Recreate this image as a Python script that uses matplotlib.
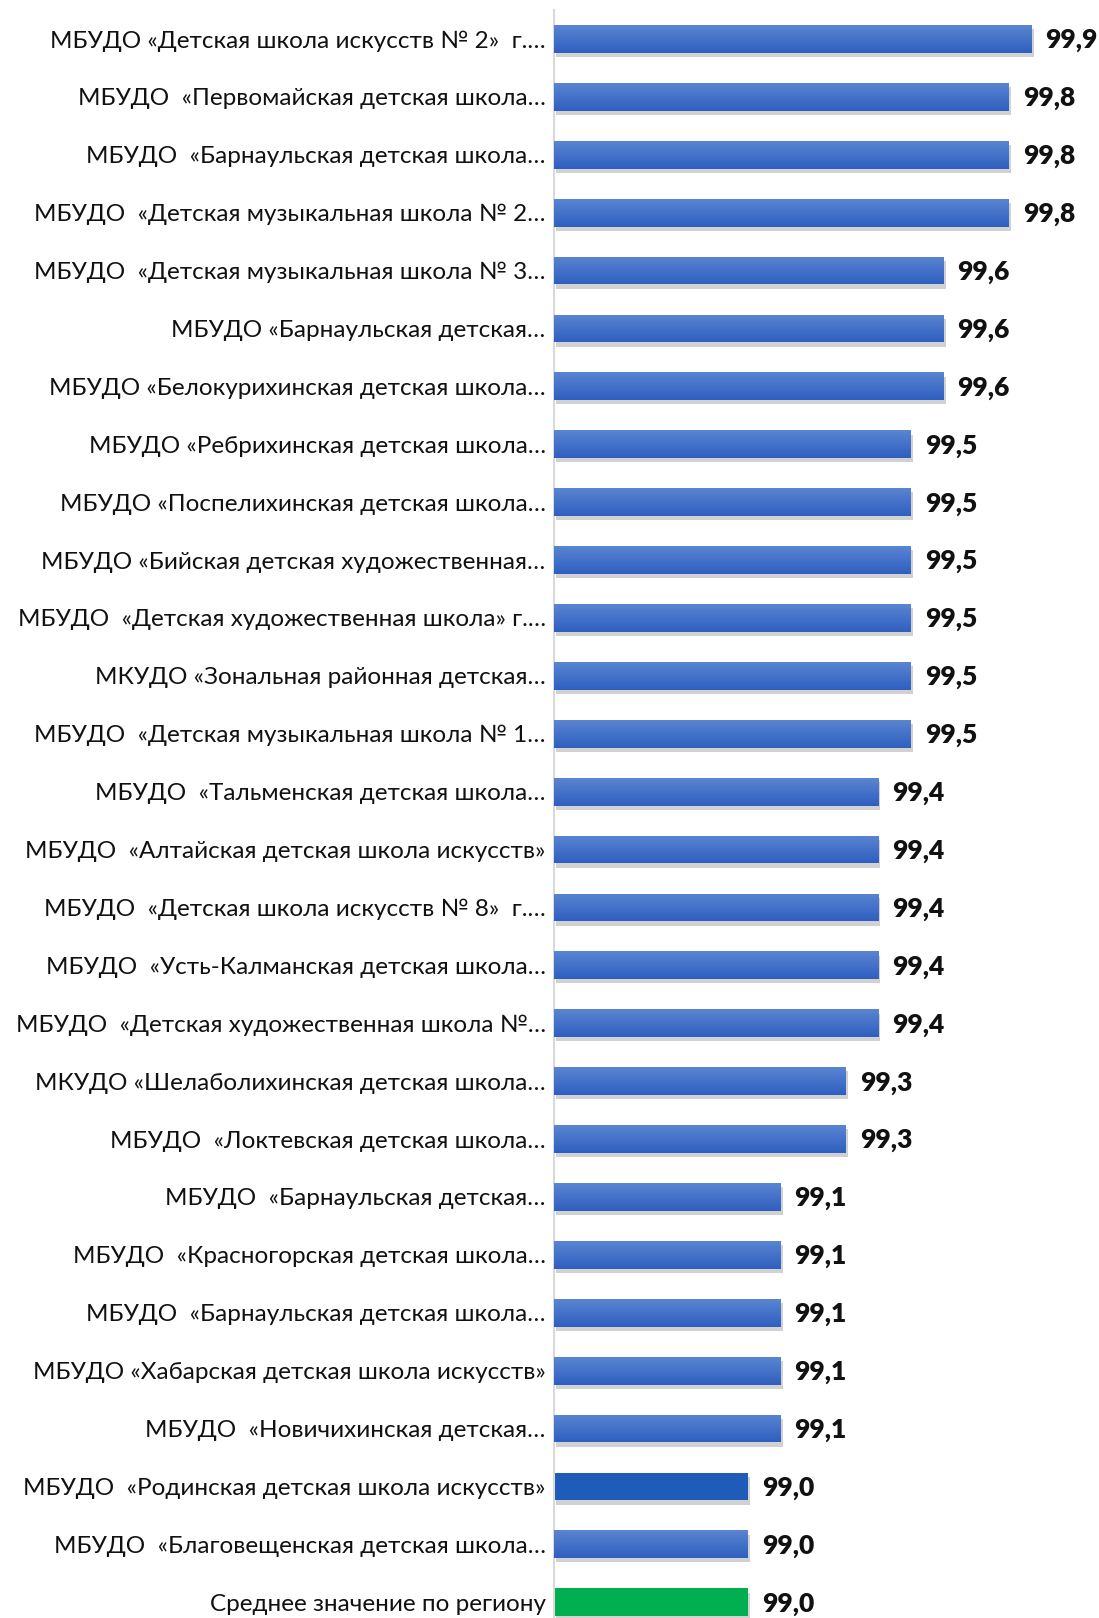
import matplotlib
import numpy as np

matplotlib.use("Agg")
import matplotlib.pyplot as plt  # noqa: E402
from matplotlib import patheffects as pe  # noqa: E402

plt.rcParams["font.family"] = ["Lato", "Open Sans", "DejaVu Sans"]

schools = [
    "МБУДО «Детская школа искусств № 2»  г.…",
    "МБУДО  «Первомайская детская школа…",
    "МБУДО  «Барнаульская детская школа…",
    "МБУДО  «Детская музыкальная школа № 2…",
    "МБУДО  «Детская музыкальная школа № 3…",
    "МБУДО «Барнаульская детская…",
    "МБУДО «Белокурихинская детская школа…",
    "МБУДО «Ребрихинская детская школа…",
    "МБУДО «Поспелихинская детская школа…",
    "МБУДО «Бийская детская художественная…",
    "МБУДО  «Детская художественная школа» г.…",
    "МКУДО «Зональная районная детская…",
    "МБУДО  «Детская музыкальная школа № 1…",
    "МБУДО  «Тальменская детская школа…",
    "МБУДО  «Алтайская детская школа искусств»",
    "МБУДО  «Детская школа искусств № 8»  г.…",
    "МБУДО  «Усть-Калманская детская школа…",
    "МБУДО  «Детская художественная школа №…",
    "МКУДО «Шелаболихинская детская школа…",
    "МБУДО  «Локтевская детская школа…",
    "МБУДО  «Барнаульская детская…",
    "МБУДО  «Красногорская детская школа…",
    "МБУДО  «Барнаульская детская школа…",
    "МБУДО «Хабарская детская школа искусств»",
    "МБУДО  «Новичихинская детская…",
    "МБУДО  «Родинская детская школа искусств»",
    "МБУДО  «Благовещенская детская школа…",
    "Среднее значение по региону",
]
values = [99.87, 99.8, 99.8, 99.8, 99.6, 99.6, 99.6, 99.5, 99.5, 99.5, 99.5, 99.5, 99.5,
          99.4, 99.4, 99.4, 99.4, 99.4, 99.3, 99.3, 99.1, 99.1, 99.1, 99.1, 99.1,
          99.0, 99.0, 99.0]
highlight = {"МБУДО  «Родинская детская школа искусств»": "#1F5BB8",
             "Среднее значение по региону": "#00B050"}

W, H = 1099, 1618
fig = plt.figure(figsize=(W / 100, H / 100), dpi=100)
n = len(schools)
row = 57.9
top_px = 10
ax = fig.add_axes([554 / W, 1 - (top_px + n * row) / H, 1 - 554 / W, n * row / H])

y = np.arange(n)
grad = np.linspace(0, 1, 64).reshape(-1, 1)
cmap = matplotlib.colors.LinearSegmentedColormap.from_list("bar", ["#5A85D3", "#2F5FBF"])
shadow = [pe.SimplePatchShadow(offset=(1.5, -3), shadow_rgbFace="#000", alpha=0.18), pe.Normal()]

bars = ax.barh(y, [v - 98.405 for v in values], left=98.405, height=0.48,
               color=[highlight.get(s, "#4472C4") for s in schools], zorder=2)
for b, s in zip(bars, schools):
    b.set_path_effects(shadow)
    if s not in highlight:
        x0, y0 = b.get_x(), b.get_y()
        im = ax.imshow(grad, cmap=cmap, aspect="auto", zorder=3,
                       extent=(x0, x0 + b.get_width(), y0 + b.get_height(), y0))
        im.set_clip_path(b)

for yi, v in zip(y, values):
    ax.annotate(f"{v:.1f}".replace(".", ","), (v, yi), xytext=(10, -1), textcoords="offset points",
                va="center", ha="left", fontsize=19, fontweight="heavy", color="#111")

ax.set_xlim(98.405, 98.405 + (W - 554) / 326)
ax.set_ylim(n - 0.5, -0.5)
ax.set_yticks(y)
ax.set_yticklabels(schools, fontsize=17.5, color="#111")
ax.tick_params(axis="y", length=0, pad=6)
ax.set_xticks([])
for sp in ["top", "right", "bottom"]:
    ax.spines[sp].set_visible(False)
ax.spines["left"].set_color("#D9D9D9")
ax.spines["left"].set_linewidth(1.5)

fig.savefig("out.png", dpi=100)
